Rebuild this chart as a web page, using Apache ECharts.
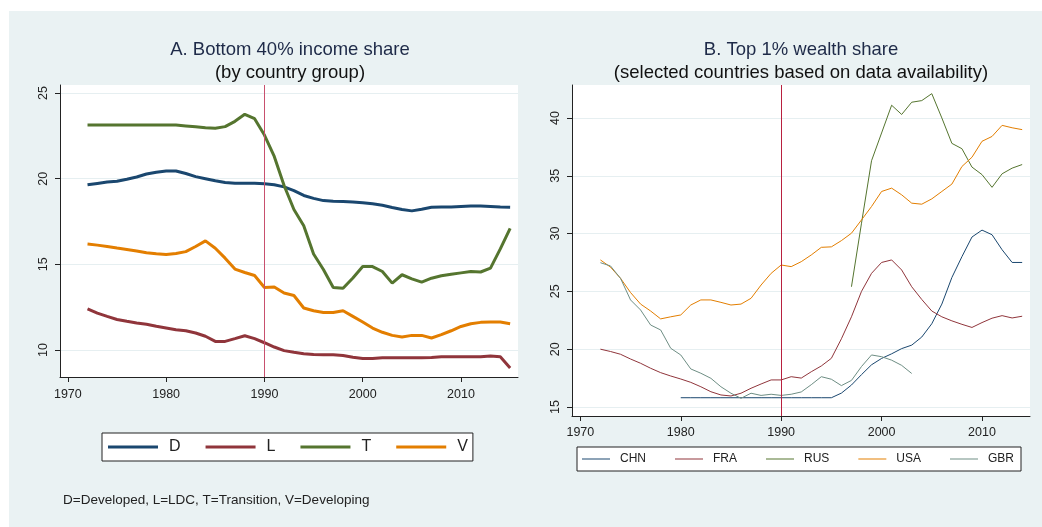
<!DOCTYPE html>
<html>
<head>
<meta charset="utf-8">
<script src="https://cdn.jsdelivr.net/npm/echarts@6/dist/echarts.min.js"></script>
<style>
html, body { margin: 0; padding: 0; background: #fff; }
#wrap { position: relative; width: 1042px; height: 527px; }
#bg { position: absolute; left: 9px; top: 11px; width: 1033px; height: 516px; background: #eaf2f3; }
#main { position: absolute; left: 0; top: 0; width: 1042px; height: 527px; }
</style>
</head>
<body>
<div id="wrap">
  <div id="bg"></div>
  <div id="main"></div>
</div>
<script>
// A. bottom 40% income share by country group
var yearsA = [1972, 1973, 1974, 1975, 1976, 1977, 1978, 1979, 1980, 1981, 1982, 1983, 1984, 1985, 1986,
  1987, 1988, 1989, 1990, 1991, 1992, 1993, 1994, 1995, 1996, 1997, 1998, 1999, 2000, 2001, 2002,
  2003, 2004, 2005, 2006, 2007, 2008, 2009, 2010, 2011, 2012, 2013, 2014, 2015];
var shareD = [19.64, 19.72, 19.80, 19.85, 19.97, 20.10, 20.27, 20.38, 20.45, 20.45, 20.30, 20.12, 20.00, 19.88, 19.78,
  19.73, 19.73, 19.73, 19.70, 19.65, 19.52, 19.30, 19.02, 18.85, 18.72, 18.68, 18.67, 18.64, 18.60, 18.53, 18.45,
  18.32, 18.20, 18.12, 18.22, 18.33, 18.35, 18.35, 18.38, 18.40, 18.40, 18.38, 18.35, 18.33];
var shareL = [12.40, 12.15, 11.96, 11.78, 11.67, 11.57, 11.50, 11.38, 11.28, 11.18, 11.12, 10.99, 10.80, 10.50, 10.50,
  10.66, 10.83, 10.66, 10.42, 10.17, 9.96, 9.86, 9.78, 9.73, 9.72, 9.72, 9.68, 9.57, 9.50, 9.50, 9.55,
  9.55, 9.55, 9.55, 9.55, 9.56, 9.60, 9.60, 9.60, 9.60, 9.60, 9.65, 9.60, 8.95];
var shareT = [23.13, 23.13, 23.13, 23.13, 23.13, 23.13, 23.13, 23.13, 23.13, 23.13, 23.08, 23.03, 22.98, 22.94, 23.04,
  23.35, 23.76, 23.50, 22.55, 21.30, 19.60, 18.20, 17.25, 15.60, 14.70, 13.65, 13.60, 14.20, 14.87, 14.87, 14.58,
  13.90, 14.39, 14.15, 13.96, 14.19, 14.33, 14.42, 14.50, 14.58, 14.55, 14.78, 15.90, 17.10];
var shareV = [16.18, 16.12, 16.04, 15.95, 15.87, 15.78, 15.68, 15.62, 15.57, 15.63, 15.74, 16.04, 16.37, 15.94, 15.36,
  14.72, 14.52, 14.35, 13.65, 13.67, 13.32, 13.18, 12.45, 12.29, 12.19, 12.19, 12.29, 11.96, 11.63, 11.28, 11.03,
  10.85, 10.76, 10.85, 10.85, 10.70, 10.89, 11.12, 11.37, 11.53, 11.61, 11.63, 11.63, 11.53];

// B. top 1% wealth share, selected countries
var yearsB = [1972, 1973, 1974, 1975, 1976, 1977, 1978, 1979, 1980, 1981, 1982, 1983, 1984, 1985, 1986,
  1987, 1988, 1989, 1990, 1991, 1992, 1993, 1994, 1995, 1996, 1997, 1998, 1999, 2000, 2001, 2002,
  2003, 2004, 2005, 2006, 2007, 2008, 2009, 2010, 2011, 2012, 2013, 2014];
var wealthCHN = [null, null, null, null, null, null, null, null, 15.8, 15.8, 15.8, 15.8, 15.8, 15.8, 15.8,
  15.8, 15.8, 15.8, 15.8, 15.8, 15.8, 15.8, 15.8, 15.8, 16.2, 16.9, 17.8, 18.65, 19.2, 19.6, 20.05,
  20.35, 21.05, 22.2, 23.9, 26.2, 28.0, 29.7, 30.3, 29.9, 28.6, 27.5, 27.5];
var wealthFRA = [20.0, 19.8, 19.56, 19.15, 18.78, 18.35, 17.97, 17.68, 17.42, 17.13, 16.75, 16.32, 16.04, 15.95, 16.19,
  16.62, 16.99, 17.34, 17.34, 17.62, 17.5, 18.05, 18.55, 19.21, 20.9, 22.8, 25.0, 26.56, 27.5, 27.72, 26.85,
  25.4, 24.3, 23.3, 22.8, 22.45, 22.15, 21.88, 22.3, 22.68, 22.9, 22.7, 22.85];
var wealthRUS = [null, null, null, null, null, null, null, null, null, null, null, null, null, null, null,
  null, null, null, null, null, null, null, null, null, null, 25.4, 30.9, 36.3, 38.7, 41.1, 40.3,
  41.36, 41.5, 42.1, 40.0, 37.8, 37.34, 35.75, 35.1, 34.0, 35.17, 35.66, 35.97];
var wealthUSA = [27.72, 27.1, 26.13, 24.9, 23.9, 23.3, 22.62, 22.8, 22.96, 23.82, 24.26, 24.26, 24.05, 23.82, 23.9,
  24.4, 25.55, 26.56, 27.28, 27.14, 27.57, 28.15, 28.81, 28.85, 29.39, 30.03, 31.18, 32.34, 33.64, 33.93, 33.35,
  32.63, 32.54, 33.0, 33.64, 34.28, 35.8, 36.6, 37.98, 38.4, 39.36, 39.15, 38.99];
var wealthGBR = [27.48, 27.2, 26.13, 24.26, 23.39, 22.09, 21.66, 20.08, 19.5, 18.29, 17.92, 17.48, 16.75, 16.19, 15.75,
  16.19, 16.0, 16.1, 16.0, 16.1, 16.3, 16.93, 17.62, 17.4, 16.85, 17.3, 18.5, 19.5, 19.35, 19.05, 18.6,
  17.9, null, null, null, null, null, null, null, null, null, null, null];

var yearTicks = [1970, 1980, 1990, 2000, 2010];
var ticksA = [10, 15, 20, 25];
var ticksB = [15, 20, 25, 30, 35, 40];

var FONT = "'Liberation Sans', Arial, sans-serif";

function pairs(xs, ys) {
  var out = [];
  for (var i = 0; i < xs.length; i++) {
    if (ys[i] != null) out.push([xs[i], ys[i]]);
  }
  return out;
}

// plain numbers, no thousands separator
function plain(v) {
  return String(v);
}

function xAxisFor(grid, min, max, margin) {
  return {
    gridIndex: grid, type: "value", min: min, max: max,
    axisLine: { show: true, onZero: false, lineStyle: { color: "#222", width: 1 } },
    axisTick: { show: true, length: 5, customValues: yearTicks, lineStyle: { color: "#222" } },
    axisLabel: { customValues: yearTicks, formatter: plain, fontSize: 12.5, color: "#222", margin: margin, fontFamily: FONT },
    splitLine: { show: false }
  };
}

function yAxisFor(grid, min, max, ticks, margin) {
  return {
    gridIndex: grid, type: "value", min: min, max: max,
    axisLine: { show: true, onZero: false, lineStyle: { color: "#222", width: 1 } },
    axisTick: { show: true, length: 5, customValues: ticks, lineStyle: { color: "#222" } },
    axisLabel: { customValues: ticks, formatter: plain, rotate: 90, fontSize: 12.5, color: "#222", margin: margin, fontFamily: FONT },
    splitLine: { show: true, lineStyle: { color: "#e6eff1", width: 1 } }
  };
}

function lineSeries(name, grid, xs, ys, color, width) {
  return {
    name: name, type: "line", xAxisIndex: grid, yAxisIndex: grid,
    data: pairs(xs, ys), symbol: "none", smooth: false, z: 3,
    lineStyle: { color: color, width: width }, itemStyle: { color: color }
  };
}

// vertical reference line at 1990
function line1990(grid, color) {
  return {
    type: "line", xAxisIndex: grid, yAxisIndex: grid, data: [], z: 2,
    markLine: {
      silent: true, symbol: ["none", "none"], label: { show: false },
      lineStyle: { color: color, width: 1, type: "solid", opacity: 1 },
      data: [{ xAxis: 1990 }]
    }
  };
}

var myChart = echarts.init(document.getElementById("main"));

myChart.setOption({
  animation: false,
  title: [
    {
      text: "A. Bottom 40% income share", subtext: "(by country group)",
      left: 290, top: 38, textAlign: "center", itemGap: 0, padding: 0,
      textStyle: { fontSize: 18.5, fontWeight: "normal", color: "#1e2a48", fontFamily: FONT, lineHeight: 23 },
      subtextStyle: { fontSize: 18.5, color: "#111", fontFamily: FONT, lineHeight: 23 }
    },
    {
      text: "B. Top 1% wealth share", subtext: "(selected countries based on data availability)",
      left: 801, top: 38, textAlign: "center", itemGap: 0, padding: 0,
      textStyle: { fontSize: 18.5, fontWeight: "normal", color: "#1e2a48", fontFamily: FONT, lineHeight: 23 },
      subtextStyle: { fontSize: 18.5, color: "#111", fontFamily: FONT, lineHeight: 23 }
    }
  ],
  legend: [
    {
      data: ["D", "L", "T", "V"],
      left: 102, top: 433, orient: "horizontal",
      icon: "rect", itemWidth: 50, itemHeight: 3, itemGap: 25,
      padding: [6, 5, 6, 6],
      backgroundColor: "#fff", borderColor: "#222", borderWidth: 1, borderRadius: 0,
      textStyle: { fontSize: 16, color: "#222", fontFamily: FONT, lineHeight: 16, padding: [0, 0, 0, 6] }
    },
    {
      data: ["CHN", "FRA", "RUS", "USA", "GBR"],
      left: 577, top: 447, orient: "horizontal",
      icon: "rect", itemWidth: 28, itemHeight: 1, itemGap: 29,
      padding: [5, 7, 5, 5],
      backgroundColor: "#fff", borderColor: "#222", borderWidth: 1, borderRadius: 0,
      textStyle: { fontSize: 12, color: "#222", fontFamily: FONT, lineHeight: 14, padding: [0, 0, 0, 5] }
    }
  ],
  grid: [
    { left: 60, top: 85, width: 458, height: 292, show: true, backgroundColor: "#fff", borderWidth: 0, outerBoundsMode: "none" },
    { left: 572, top: 85, width: 458, height: 331, show: true, backgroundColor: "#fff", borderWidth: 0, outerBoundsMode: "none" }
  ],
  xAxis: [
    xAxisFor(0, 1969.2, 2015.8, 11),
    xAxisFor(1, 1969.17, 2014.78, 10)
  ],
  yAxis: [
    yAxisFor(0, 8.42, 25.47, ticksA, 10),
    yAxisFor(1, 14.22, 42.85, ticksB, 10)
  ],
  graphic: [
    {
      type: "text", left: 63, top: 493,
      style: { text: "D=Developed, L=LDC, T=Transition, V=Developing", font: "13.5px " + FONT, fill: "#222" }
    }
  ],
  series: [
    line1990(0, "#c8506e"),
    lineSeries("D", 0, yearsA, shareD, "#1a476f", 3),
    lineSeries("L", 0, yearsA, shareL, "#90353b", 3),
    lineSeries("T", 0, yearsA, shareT, "#55752f", 3),
    lineSeries("V", 0, yearsA, shareV, "#e37e00", 3),
    line1990(1, "#b8203f"),
    lineSeries("CHN", 1, yearsB, wealthCHN, "#1a476f", 1),
    lineSeries("FRA", 1, yearsB, wealthFRA, "#90353b", 1),
    lineSeries("RUS", 1, yearsB, wealthRUS, "#55752f", 1),
    lineSeries("USA", 1, yearsB, wealthUSA, "#e37e00", 1),
    lineSeries("GBR", 1, yearsB, wealthGBR, "#6e8e84", 1)
  ]
});
</script>
</body>
</html>
